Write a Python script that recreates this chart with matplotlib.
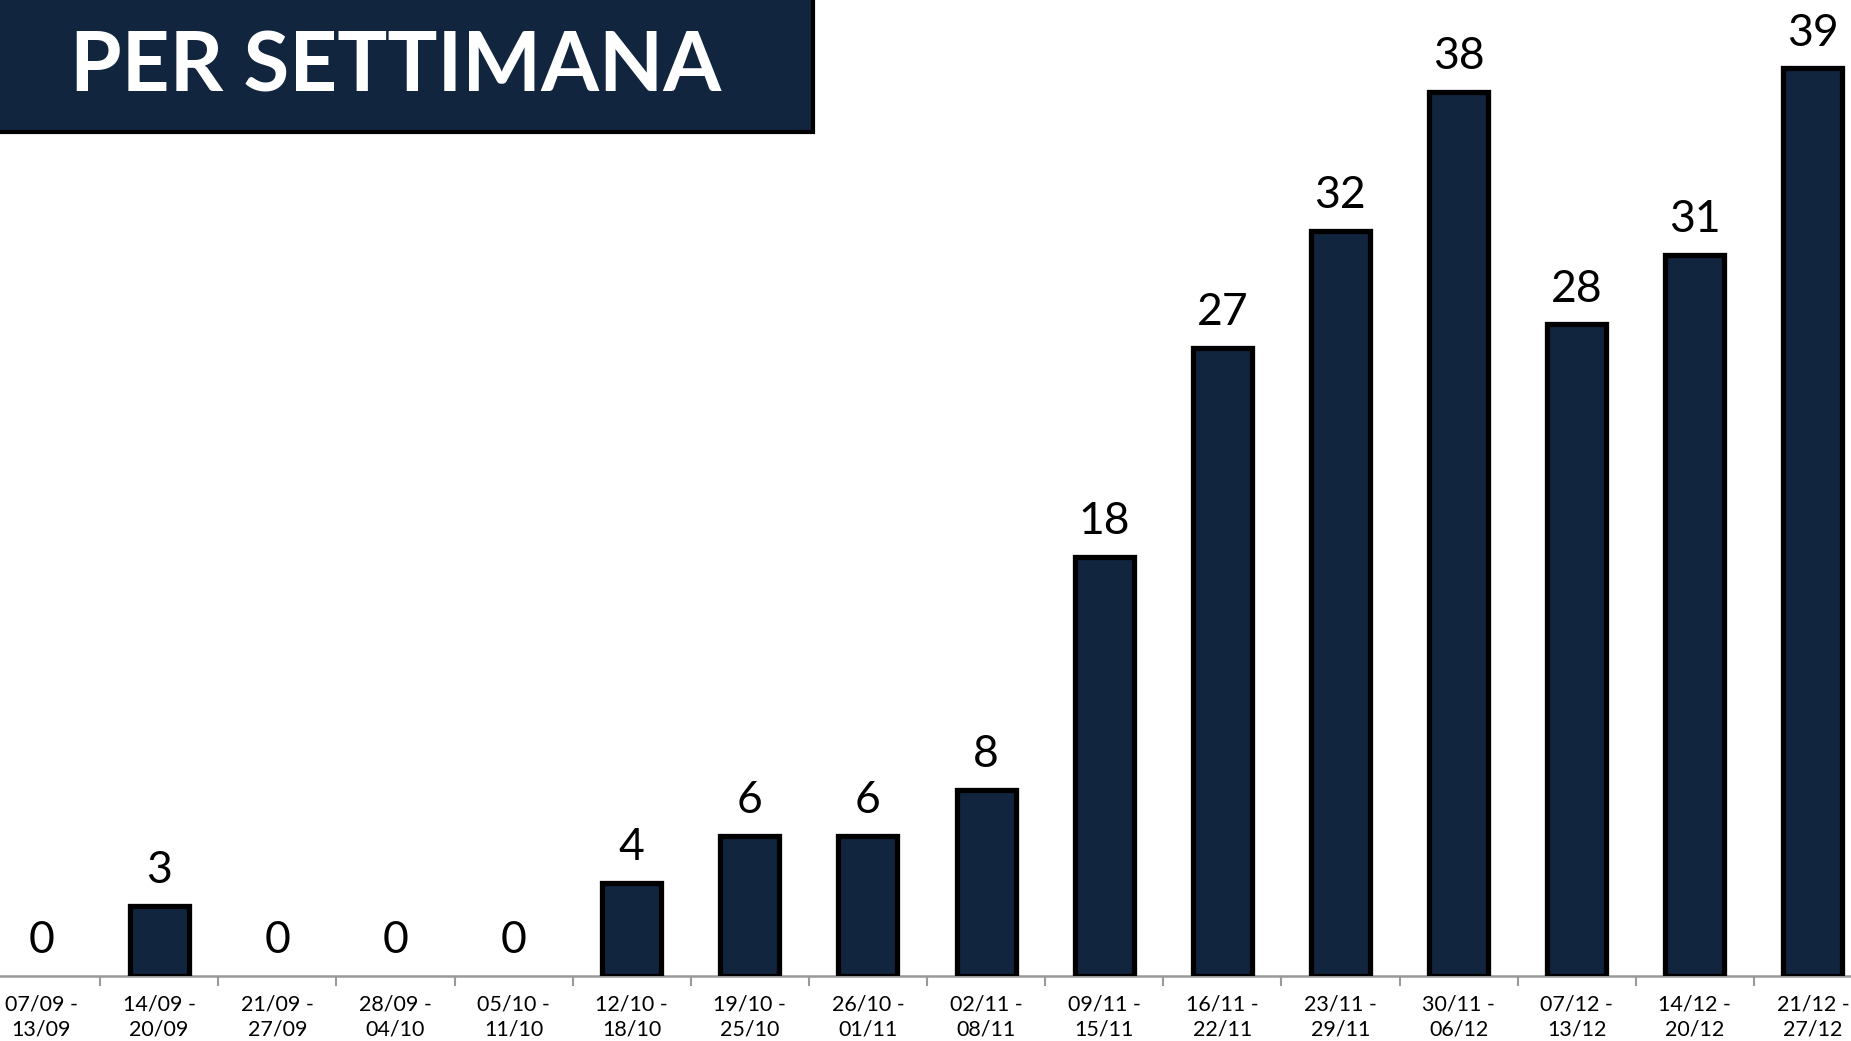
import numpy as np
import matplotlib.pyplot as plt
from matplotlib.patches import Rectangle

weeks = ["07/09 -\n13/09", "14/09 -\n20/09", "21/09 -\n27/09", "28/09 -\n04/10",
         "05/10 -\n11/10", "12/10 -\n18/10", "19/10 -\n25/10", "26/10 -\n01/11",
         "02/11 -\n08/11", "09/11 -\n15/11", "16/11 -\n22/11", "23/11 -\n29/11",
         "30/11 -\n06/12", "07/12 -\n13/12", "14/12 -\n20/12", "21/12 -\n27/12"]
counts = [0, 3, 0, 0, 0, 4, 6, 6, 8, 18, 27, 32, 38, 28, 31, 39]

navy = "#12253f"
plt.rcParams['font.family'] = ['Lato', 'DejaVu Sans']

W, H = 1851, 1041
fig = plt.figure(figsize=(W / 100, H / 100), dpi=100)
# axes spills slightly past the left/right edges like the original slide
ax = fig.add_axes([-18 / W, 1 - 976 / H, 1890 / W, 976 / H])

x = np.arange(len(counts))
lw = [3.8 if v > 0 else 0 for v in counts]
ax.bar(x, counts, width=0.5, color=navy, edgecolor="black", linewidth=lw, zorder=3)
for xi, v in zip(x, counts):
    ax.annotate(str(v), (xi, v), xytext=(0, 16.5), textcoords="offset points",
                ha="center", va="baseline", fontsize=32, color="black")

ax.set_xlim(-0.5, len(counts) - 0.5)
ax.set_ylim(0, 976 / 23.27)
ax.set_yticks([])
ax.set_xticks(x)
ax.set_xticklabels(weeks, fontsize=15.5, linespacing=1.35)
ax.set_xticks(np.arange(-0.5, len(counts)), minor=True)
ax.tick_params(axis="x", which="major", length=0, pad=13)
ax.tick_params(axis="x", which="minor", length=7, width=1.5, color="#999999")
for s in ["top", "left", "right"]:
    ax.spines[s].set_visible(False)
ax.spines["bottom"].set_color("#999999")
ax.spines["bottom"].set_linewidth(1.8)

# title banner
fig.patches.append(Rectangle((-0.01, 1 - 132 / H), 813 / W + 0.01, 132 / H + 0.01,
                             transform=fig.transFigure, facecolor=navy,
                             edgecolor="black", linewidth=3, zorder=5))
fig.text(396 / W, 1 - 68 / H, "PER SETTIMANA", ha="center", va="center",
         fontsize=60, fontweight="bold", color="white", zorder=6)

fig.savefig("out.png", dpi=100)
